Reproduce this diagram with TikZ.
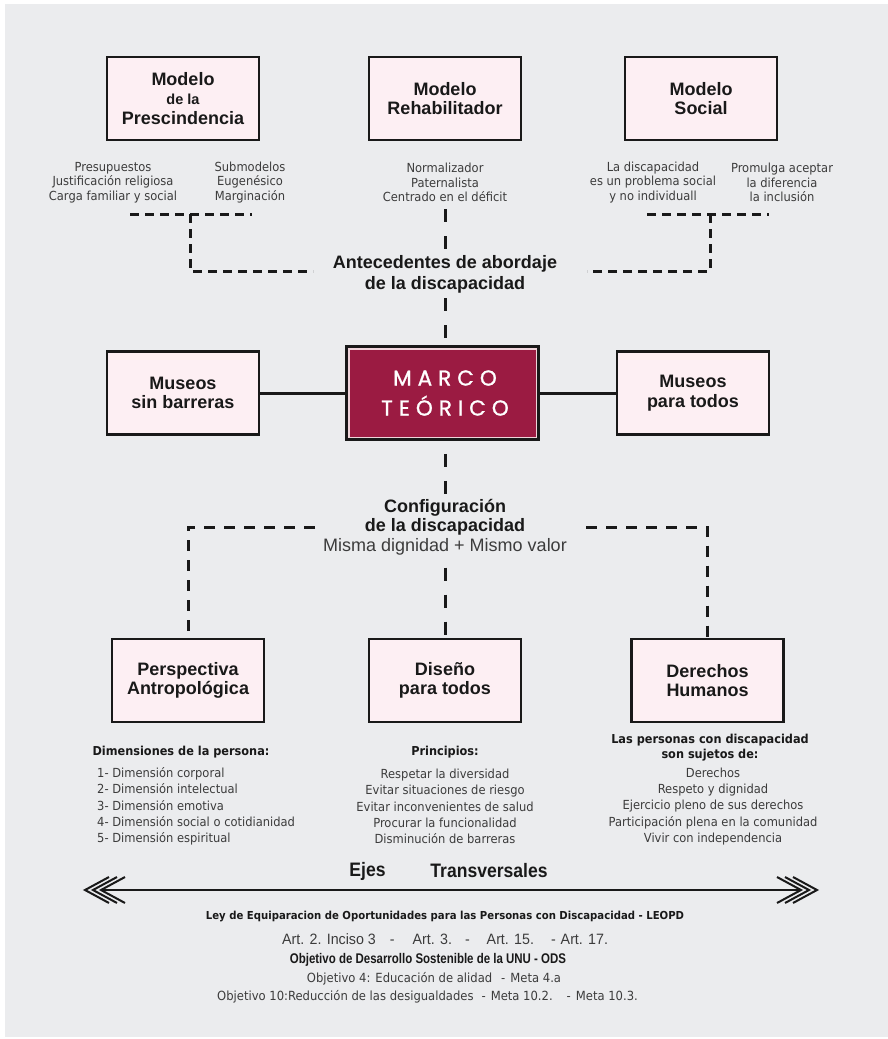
\documentclass[tikz,border=0pt]{standalone}
\usepackage{fontspec}
\setmainfont{Liberation Sans}
\newfontfamily\smallf[FakeStretch=0.92]{DejaVu Sans}
\newfontfamily\narrowf[FakeStretch=0.82]{Liberation Sans}
\newfontfamily\semif[FakeStretch=0.9]{Liberation Sans}
\newfontfamily\artf[FakeStretch=0.95]{Liberation Sans}
\newfontfamily\marcof[LetterSpace=28,FakeBold=1.2]{Poppins}
\definecolor{bgc}{RGB}{235,236,238}
\definecolor{boxpink}{RGB}{253,239,243}
\definecolor{crim}{RGB}{155,27,66}
\definecolor{titlec}{RGB}{25,25,25}
\definecolor{smallc}{RGB}{60,60,60}
\definecolor{inlight}{RGB}{240,212,218}
\tikzset{
  box/.style={draw=black!90, line width=2.8pt, fill=boxpink, minimum width=152pt, minimum height=83pt,
    inner sep=0pt, align=center, text=titlec, font=\fontsize{18}{19.5}\selectfont\bfseries},
  marcobox/.style={draw=black!90, line width=3.5pt, fill=crim, minimum width=191pt, minimum height=92pt,
    inner sep=0pt, align=center, text=white, font=\marcof\fontsize{21.5}{30}\selectfont},
  small/.style={align=center, text=smallc, inner sep=0pt, font=\smallf\fontsize{12.5}{14.5}\selectfont},
  list/.style={align=center, text=smallc, inner sep=0pt, font=\smallf\fontsize{12.5}{16.3}\selectfont},
  listb/.style={align=center, text=titlec, inner sep=0pt, font=\smallf\fontsize{12.3}{15}\selectfont\bfseries},
  head/.style={align=center, inner sep=0pt, text=titlec, font=\fontsize{18}{21}\selectfont\bfseries},
  misma/.style={inner sep=0pt, text=smallc, font=\fontsize{18}{21}\selectfont},
  ejesf/.style={inner sep=0pt, text=titlec, font=\semif\fontsize{19.5}{21}\selectfont\bfseries},
  lawb/.style={inner sep=0pt, text=titlec, font=\smallf\fontsize{11}{14}\selectfont\bfseries},
  artr/.style={inner sep=0pt, text=smallc, font=\artf\fontsize{15}{16}\selectfont},
  odsb/.style={inner sep=0pt, text=titlec, font=\narrowf\fontsize{14}{16}\selectfont\bfseries},
  odsr/.style={inner sep=0pt, text=smallc, font=\smallf\fontsize{12.6}{15}\selectfont},
  dsh/.style={line width=3pt, draw=black!90, dash pattern=on 9pt off 6pt},
  dshm/.style={line width=3pt, draw=black!90, dash pattern=on 11pt off 9pt},
  vdsh/.style={line width=3pt, draw=black!90, dash pattern=on 13pt off 14pt},
  solidc/.style={line width=3pt, draw=black!90},
  chev/.style={line width=2pt, draw=black!90},
}
\begin{document}
\begin{tikzpicture}[x=1pt,y=-1pt]
\useasboundingbox (0,0) rectangle (888,1039);
\fill[white] (0,0) rectangle (888,1039);
\fill[bgc] (5,4) rectangle (888,1037);

% top boxes
\node[box] (m1) at (183,98.5) {Modelo\\{\fontsize{14.5}{19.5}\selectfont de la}\\Prescindencia};
\node[box] (m2) at (445,98.5) {Modelo\\Rehabilitador};
\node[box] (m3) at (701,98.5) {Modelo\\Social};

% top small texts
\node[small] (t1a) at (113,182.5) {Presupuestos\\Justificación religiosa\\Carga familiar y social};
\node[small] (t1b) at (250,182.5) {Submodelos\\Eugenésico\\Marginación};
\node[small] (t2) at (445,182.5) {Normalizador\\Paternalista\\Centrado en el déficit};
\node[small] (t3a) at (653,182.5) {La discapacidad\\es un problema social\\y no individuall};
\node[small] (t3b) at (782,182.5) {Promulga aceptar\\la diferencia\\la inclusión};

\node[head] (ante) at (445,274) {Antecedentes de abordaje\\de la discapacidad};

% top connectors
\coordinate (tl1) at (130,214); \coordinate (tl2) at (252,214);
\coordinate (tlv) at (190,214); \coordinate (tlc) at (190,271); \coordinate (tle) at (313,271);
\coordinate (tr1) at (647,214); \coordinate (tr2) at (769,214);
\coordinate (trv) at (710,214); \coordinate (trc) at (710,271); \coordinate (tre) at (587,271);
\coordinate (ca) at (445,209);
\draw[dsh] (tl1) -- (tl2);
\draw[dsh] (tlv) -- (tlc) -- (tle);
\draw[dsh] (tr1) -- (tr2);
\draw[dsh] (trv) -- (trc) -- (tre);
\draw[vdsh] (ca) -- (ante.north);

% middle row
\node[marcobox] (marco) at (442.5,393) {\hspace*{5pt}MARCO\\\hspace*{5pt}TEÓRICO};
\draw[line width=1.5pt, inlight] ([shift={(3.5,3.5)}]marco.north west) rectangle ([shift={(-3.5,-3.5)}]marco.south east);
\node[box] (musL) at (183,393) {Museos\\sin barreras};
\node[box] (musR) at (693,393) {Museos\\para todos};
\draw[solidc] (musL) -- (marco);
\draw[solidc] (marco) -- (musR);
\draw[vdsh, shorten <=5pt] (ante.south) -- (ante.south |- marco.north);

% configuracion
\node[head, font=\fontsize{18}{19.5}\selectfont\bfseries] (conf) at (445,517.5) {Configuración\\de la discapacidad};
\node[misma] (misma) at (445,547) {Misma dignidad + Mismo valor};
\draw[vdsh, shorten <=13pt] (conf.north |- marco.south) -- (conf.north);

% bottom boxes
\node[box] (pers) at (188,680.5) {Perspectiva\\Antropológica};
\node[box] (dis) at (445,680.5) {Diseño\\para todos};
\node[box] (der) at (707.5,680.5) {Derechos\\Humanos};

\coordinate (ml1) at (315,527);
\coordinate (mr1) at (586,527);
\draw[dshm] (ml1) -- (pers.north |- ml1) -- (pers.north);
\draw[dshm] (mr1) -- (der.north |- mr1) -- (der.north);
\draw[vdsh, shorten <=12pt] (misma.south) -- (dis.north);

% bottom lists
\node[listb] (dimh) at (181,752) {Dimensiones de la persona:};
\node[list, align=left, anchor=west] (dim) at (97,806.5) {1- Dimensión corporal\\2- Dimensión intelectual\\3- Dimensión emotiva\\4- Dimensión social o cotidianidad\\5- Dimensión espiritual};
\node[listb] (prh) at (445,752) {Principios:};
\node[list] (pr) at (445,806.5) {Respetar la diversidad\\Evitar situaciones de riesgo\\Evitar inconvenientes de salud\\Procurar la funcionalidad\\Disminución de barreras};
\node[listb] (lph) at (710,747.5) {Las personas con discapacidad\\son sujetos de:};
\node[list] (lp) at (713,806.5) {Derechos\\Respeto y dignidad\\Ejercicio pleno de sus derechos\\Participación plena en la comunidad\\Vivir con independencia};

% ejes transversales
\node[ejesf] (ejes) at (367.5,871) {Ejes};
\node[ejesf] (trans) at (489,871) {Transversales};
\coordinate (arL) at (101,890);
\coordinate (arR) at (801,890);
\draw[solidc, line width=2.6pt] (arL) -- (arR);
\foreach \i in {0,1,2}{
  \draw[chev] ({85+8*\i+24},877) -- ({85+8*\i},890) -- ({85+8*\i+24},903);
  \draw[chev] ({817-8*\i-24},877) -- ({817-8*\i},890) -- ({817-8*\i-24},903);
}

\node[lawb] (ley) at (445,916) {Ley de Equiparacion de Oportunidades para las Personas con Discapacidad - LEOPD};
\node[artr, anchor=west] (art) at (282,939) {Art. 2. Inciso 3\hspace{14pt}-\hspace{18pt}Art. 3.\hspace{13pt}-\hspace{17pt}Art. 15.\hspace{17pt}-\hspace{5pt}Art. 17.};
\node[odsb] (ods) at (428,960) {Objetivo de Desarrollo Sostenible de la UNU - ODS};
\node[odsr] (o4) at (434,979) {Objetivo 4: Educación de alidad\hspace{9pt}-\hspace{5pt}Meta 4.a};
\node[odsr] (o10) at (427.5,997) {Objetivo 10:Reducción de las desigualdades\hspace{8pt}-\hspace{5pt}Meta 10.2.\hspace{14pt}-\hspace{5pt}Meta 10.3.};
\end{tikzpicture}
\end{document}
